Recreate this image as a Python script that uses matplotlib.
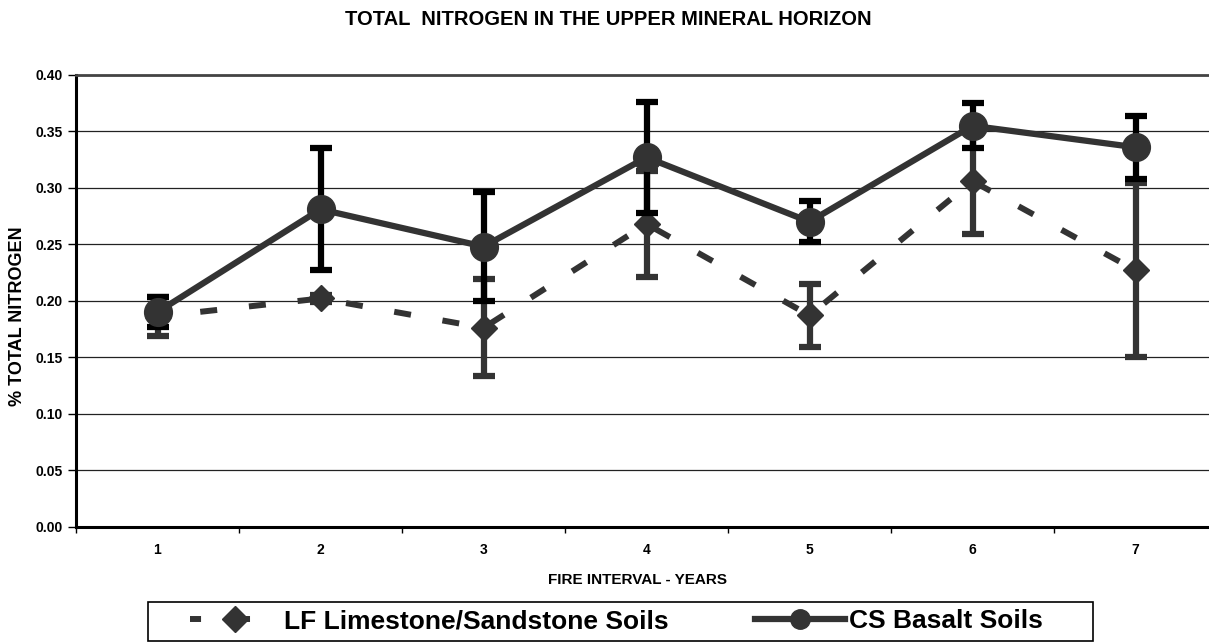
import numpy as np
import matplotlib
matplotlib.use("Agg")
import matplotlib.pyplot as plt
from matplotlib.lines import Line2D
from matplotlib.patches import Rectangle

plt.rcParams['font.family'] = ['Liberation Sans', 'DejaVu Sans']
plt.rcParams['font.weight'] = 'bold'

years = [1, 2, 3, 4, 5, 6, 7]
year_labels = ['1', '2', '3', '4', '5', '6', '7']

# LF limestone/sandstone soils
lf_mean = [0.186, 0.202, 0.176, 0.268, 0.187, 0.306, 0.227]
lf_err = [0.017, 0.003, 0.043, 0.047, 0.028, 0.047, 0.077]

# CS basalt soils
cs_mean = [0.190, 0.281, 0.248, 0.327, 0.270, 0.355, 0.336]
cs_err = [0.013, 0.054, 0.048, 0.049, 0.018, 0.020, 0.028]

yticks = [0.0, 0.05, 0.10, 0.15, 0.20, 0.25, 0.30, 0.35, 0.40]

series_col = '#333333'
W, H = 1209, 643

fig = plt.figure(figsize=(W / 100, H / 100), dpi=100)
ax = fig.add_axes([76 / W, 1 - 526.5 / H, 1141 / W, 451.5 / H])

lf_style = (1.0, (2.85, 5.35))

# LF series (dashed, diamonds)
ax.errorbar(years, lf_mean, yerr=lf_err, fmt='none', ecolor=series_col,
            elinewidth=4.5, capsize=8, capthick=4.5, zorder=3)
ax.plot(years, lf_mean, color=series_col, lw=4.3, ls=lf_style,
        dash_capstyle='butt', zorder=4)
ax.plot(years, lf_mean, ls='none', marker='D', ms=13, color=series_col, zorder=5)

# CS series (solid, circles)
ax.errorbar(years, cs_mean, yerr=cs_err, fmt='none', ecolor='black',
            elinewidth=4.5, capsize=8, capthick=4.5, zorder=6)
ax.plot(years, cs_mean, color=series_col, lw=4.5, marker='o', ms=20,
        zorder=7)

ax.set_xlim(0.5, 7.5)
ax.set_ylim(0, 0.40)
ax.set_yticks(yticks)
ax.set_yticklabels([f'{v:.2f}' for v in yticks], fontsize=10, fontweight='bold')
ax.yaxis.grid(True, color='#222222', lw=0.9)
ax.set_axisbelow(True)

ax.set_xticks(np.arange(0.5, 8.0, 1.0))
ax.set_xticklabels([])
ax.set_xticks(years, minor=True)
ax.set_xticklabels(year_labels, minor=True, fontsize=10, fontweight='bold')
ax.tick_params(axis='x', which='major', length=4, width=1, direction='out')
ax.tick_params(axis='x', which='minor', length=0, pad=12)
ax.tick_params(axis='y', length=6, width=1, direction='out', pad=3.5)

ax.spines['right'].set_visible(False)
ax.spines['top'].set_color('#444444')
ax.spines['top'].set_linewidth(2)
ax.spines['left'].set_linewidth(2.2)
ax.spines['bottom'].set_linewidth(2.2)

fig.text(637 / W, 1 - 580 / H, 'FIRE INTERVAL - YEARS', fontsize=11,
         fontweight='bold', ha='center', va='center')
fig.text(17.5 / W, 1 - 316 / H, '% TOTAL NITROGEN', fontsize=13,
         fontweight='bold', ha='center', va='center', rotation=90)

fig.text(608.5 / W, 1 - 19.5 / H, 'TOTAL  NITROGEN IN THE UPPER MINERAL HORIZON',
         fontsize=14.5, fontweight='bold', ha='center', va='center')

# legend box drawn by hand, legend entries without frame
fig.patches.append(Rectangle((148 / W, 1 - 641 / H), (1093 - 148) / W, 39 / H,
                             transform=fig.transFigure, fill=False,
                             edgecolor='black', lw=1.2))
h_lf = Line2D([], [], color=series_col, lw=4.3, ls=lf_style, marker='D', ms=13)
h_cs = Line2D([], [], color=series_col, lw=4.5, marker='o', ms=14)
fig.legend([h_lf, h_cs], ['LF Limestone/Sandstone Soils', 'CS Basalt Soils'],
           loc='center left', bbox_to_anchor=(190 / W, 1 - 621.5 / H),
           ncol=2, frameon=False, handlelength=3.4, handletextpad=0.15,
           columnspacing=3.3, borderpad=0, borderaxespad=0,
           prop={'size': 19, 'weight': 'bold'})

fig.savefig('out.png', dpi=100)
